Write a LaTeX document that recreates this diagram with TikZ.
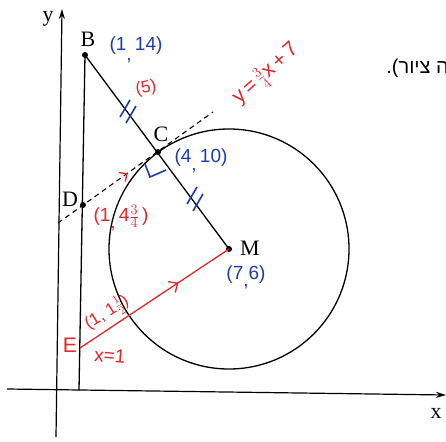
\documentclass[tikz,border=0pt]{standalone}
\usepackage{fontspec}
\setmainfont{Liberation Serif}
\newfontfamily\handfont{Liberation Sans}
\newfontfamily\hebfont[Script=Hebrew]{Liberation Sans}
\TeXXeTstate=1
\usetikzlibrary{arrows.meta,decorations.markings,calc}
\definecolor{pred}{HTML}{E3262B}
\definecolor{pblue}{HTML}{1F3CA8}
\begin{document}
\begin{tikzpicture}[x=1pt,y=-1pt,
  axis/.style={line width=1.2pt,-{Stealth[length=10pt,width=6pt]}},
  geo/.style={line width=1.3pt},
  pt/.style={circle,fill=black,inner sep=0pt,minimum size=6pt},
  lbl/.style={font=\fontsize{22}{22}\selectfont, inner sep=0pt},
  annr/.style={text=pred,font=\handfont\fontsize{19}{19}\selectfont, inner sep=0pt},
  annb/.style={text=pblue,font=\handfont\fontsize{19}{19}\selectfont, inner sep=0pt},
  tickmark/.style={pblue,line width=1.6pt},
  ]
\useasboundingbox (0,0) rectangle (446,441);
\coordinate (Ybot) at (56,437);
\coordinate (Ytop) at (62,9);
\coordinate (Xl) at (7,389);
\coordinate (Xr) at (446,395);
\coordinate (Foot) at (79,390);
\node[pt] (B) at (85,55) {};
\node[pt] (C) at (158,152) {};
\node[pt] (M) at (229,249) {};
\node[pt] (D) at (83,205) {};
\coordinate (E) at (80,348);
\coordinate (Ld) at (58,223);
\coordinate (Lu) at (213,112);

% axes
\draw[axis] (Ybot) -- (Ytop);
\draw[axis] (Xl) -- (Xr);
\node[lbl] (ylab) at (48,19) {y};
\node[lbl] (xlab) at (436,413) {x};

% geometry
\draw[geo] (Foot) -- (B.center);
\draw[geo] (B.center) -- (M.center);
\draw[geo] (M.center) circle [radius=120pt];
\draw[line width=1.1pt, dash pattern=on 5pt off 4pt] (Ld) -- (Lu);
\path[decoration={markings,mark=at position 0.45 with {\arrow[pred,line width=1.3pt]{Straight Barb[length=6pt,width=11pt]}}},decorate] (Ld) -- (Lu);
\draw[pred,line width=1.3pt,
  decoration={markings,mark=at position 0.66 with {\arrow{Straight Barb[length=7pt,width=13pt]}}},
  postaction={decorate}] (E) -- (M.center);

% right angle mark
\draw[pblue,line width=1.6pt] ($(C.center)+(-13,12)$) -- ($(C.center)+(-8,25)$) -- ($(C.center)+(8,18)$);

% equal-length ticks
\draw[tickmark] (120,117) -- (130,100);
\draw[tickmark] (126,123) -- (136,106);
\draw[tickmark] (187,204) -- (197,187);
\draw[tickmark] (193,211) -- (203,194);

% point labels
\node[lbl] (Blab) at (88,39) {B};
\node[lbl] (Clab) at (161,134) {C};
\node[lbl] (Dlab) at (70,199) {D};
\node[lbl] (Mlab) at (250,248) {M};

% annotations
\node[annb] (aB) at (136,50) {(1\raisebox{-10pt}{,}\,14)};
\node[annr, rotate=10, font=\handfont\fontsize{17}{17}\selectfont] (a5) at (146,88) {(5)};
\node[annb] (aC) at (201,161) {(4\raisebox{-8pt}{,}\,10)};
\node[annb] (aM) at (246,277) {(7\raisebox{-7pt}{,}6)};
\node[annr] (aD) at (121,218) {(1\raisebox{-7pt}{,}\,4$\frac{3}{4}$\,)};
\node[annr, rotate=32, font=\handfont\fontsize{17}{17}\selectfont] (aE) at (107,313) {(1, 1$\frac{1}{2}$)};
\node[annr, font=\handfont\fontsize{21}{21}\selectfont] (Elab) at (70,345) {E};
\node[annr, rotate=-5] (x1) at (110,356) {x=1};
\node[annr, rotate=42, font=\handfont\fontsize{21}{21}\selectfont] (eq) at (266,74) {y\,=\,$\frac{3}{4}$x\,+\,7};

% hebrew text
\node[font=\hebfont\fontsize{20}{20}\selectfont, inner sep=0pt, anchor=east] (heb) at (449,68) {\beginR ה ציור).\endR};
\end{tikzpicture}
\end{document}
